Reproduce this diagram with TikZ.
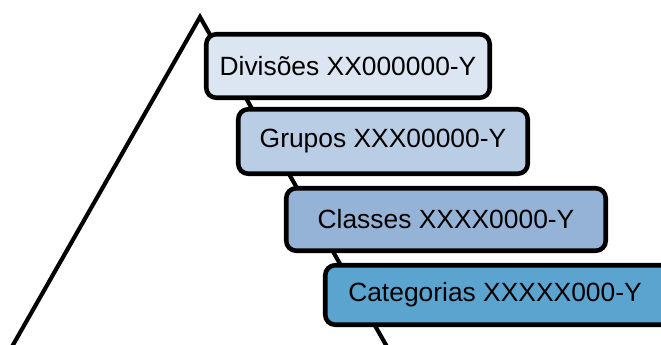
\documentclass[tikz,border=0pt]{standalone}
\usepackage{fontspec}
\setmainfont{Liberation Sans}
\definecolor{cdiv}{HTML}{DCE6F2}
\definecolor{cgru}{HTML}{B9CDE5}
\definecolor{ccla}{HTML}{95B3D7}
\definecolor{ccat}{HTML}{5BA4CF}
\begin{document}
\begin{tikzpicture}[x=0.75pt,y=-0.75pt,
  lvl/.style={draw=black, line width=3.4pt, rounded corners=7.5pt,
    font=\fontsize{19.8}{24}\selectfont, inner sep=0pt, align=center},
  pyr/.style={draw=black, line width=3.1pt, line join=miter}]
\useasboundingbox (0,0) rectangle (661,345);
\clip (0,0) rectangle (661,345);
\coordinate (apex) at (200,17);
\coordinate (bl) at (4.4,360);
\coordinate (br) at (394.5,360);
\draw[pyr] (bl) -- (apex) -- (br);
\node[lvl, fill=cdiv, minimum width=283.5*0.75pt, minimum height=63.5*0.75pt] (div) at (348,66) {Divisões XX000000-Y};
\node[lvl, fill=cgru, minimum width=289.5*0.75pt, minimum height=64.5*0.75pt] (gru) at (383,141.5) {Grupos XXX00000-Y};
\node[lvl, fill=ccla, minimum width=319.5*0.75pt, minimum height=62.5*0.75pt] (cla) at (446,219.5) {Classes XXXX0000-Y};
\node[lvl, fill=ccat, minimum width=372.5*0.75pt, minimum height=59.5*0.75pt] (cat) at (511.5,295) {Categorias XXXXX000-Y\hspace{24.75pt}};
\end{tikzpicture}
\end{document}
